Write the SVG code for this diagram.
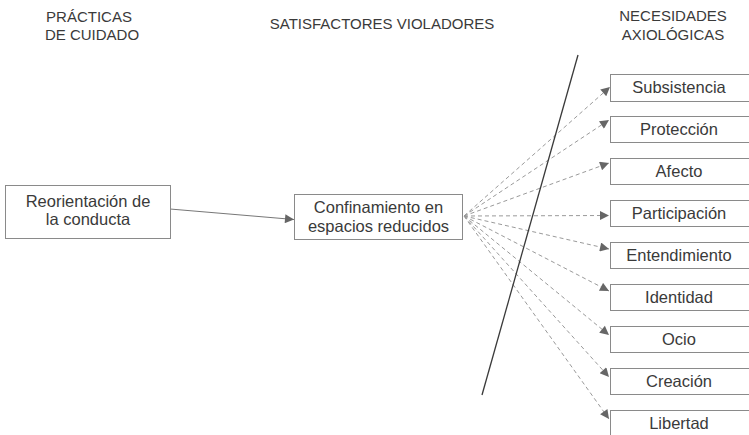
<svg xmlns="http://www.w3.org/2000/svg" width="749" height="435" viewBox="0 0 749 435">
<defs>
<marker id="ah" viewBox="0 0 10 10" refX="10" refY="5" markerWidth="11" markerHeight="9" markerUnits="userSpaceOnUse" orient="auto"><path d="M0,0 L10,5 L0,10 z" fill="#666"/></marker>
<style>
text{font-family:"Liberation Sans",Arial,sans-serif;fill:#3a3a3a;text-anchor:middle}
.t{font-size:15px}
.b{font-size:16.5px}
rect{fill:#fff;stroke:#8a8a8a;stroke-width:1}
.d{stroke:#9a9a9a;stroke-width:1;stroke-dasharray:4 3;fill:none}
.s{stroke:#777;stroke-width:1;fill:none}
</style>
</defs>
<g id="titles">
<text class="t" x="89" y="22">PRÁCTICAS</text>
<text class="t" x="92" y="40">DE CUIDADO</text>
<text class="t" x="382" y="29">SATISFACTORES VIOLADORES</text>
<text class="t" x="673" y="21">NECESIDADES</text>
<text class="t" x="673" y="40">AXIOLÓGICAS</text>
</g>
<g id="connectors">
<line class="s" x1="170" y1="209" x2="294" y2="219.5" marker-end="url(#ah)"/>
<line class="d" x1="464" y1="216" x2="610" y2="87" marker-end="url(#ah)"/>
<line class="d" x1="464" y1="216" x2="609" y2="120" marker-end="url(#ah)"/>
<line class="d" x1="464" y1="216" x2="609" y2="163" marker-end="url(#ah)"/>
<line class="d" x1="464" y1="216" x2="609" y2="215.5" marker-end="url(#ah)"/>
<line class="d" x1="464" y1="216" x2="609" y2="249" marker-end="url(#ah)"/>
<line class="d" x1="464" y1="216" x2="609" y2="291" marker-end="url(#ah)"/>
<line class="d" x1="464" y1="216" x2="609" y2="335" marker-end="url(#ah)"/>
<line class="d" x1="464" y1="216" x2="609" y2="377" marker-end="url(#ah)"/>
<line class="d" x1="464" y1="216" x2="609" y2="419" marker-end="url(#ah)"/>
<line x1="578" y1="55" x2="482" y2="395" stroke="#3a3a3a" stroke-width="1.3"/>
</g>
<g id="n-reorientacion">
<rect x="5.5" y="185.5" width="165" height="53"/>
<text class="b" x="88" y="207">Reorientación de</text>
<text class="b" x="88" y="225">la conducta</text>
</g>
<g id="n-confinamiento">
<rect x="294.5" y="194.5" width="168" height="45"/>
<text class="b" x="378.5" y="213">Confinamiento en</text>
<text class="b" x="378.5" y="232">espacios reducidos</text>
</g>
<g id="n-subsistencia"><rect x="610.5" y="74.5" width="145" height="27"/><text class="b" x="679" y="93">Subsistencia</text></g>
<g id="n-proteccion"><rect x="610.5" y="116.5" width="145" height="26"/><text class="b" x="679" y="135">Protección</text></g>
<g id="n-afecto"><rect x="610.5" y="158.5" width="145" height="26"/><text class="b" x="679" y="177">Afecto</text></g>
<g id="n-participacion"><rect x="610.5" y="200.5" width="145" height="26"/><text class="b" x="679" y="219">Participación</text></g>
<g id="n-entendimiento"><rect x="610.5" y="242.5" width="145" height="26"/><text class="b" x="679" y="261">Entendimiento</text></g>
<g id="n-identidad"><rect x="610.5" y="284.5" width="145" height="26"/><text class="b" x="679" y="303">Identidad</text></g>
<g id="n-ocio"><rect x="610.5" y="326.5" width="145" height="26"/><text class="b" x="679" y="345">Ocio</text></g>
<g id="n-creacion"><rect x="610.5" y="368.5" width="145" height="26"/><text class="b" x="679" y="387">Creación</text></g>
<g id="n-libertad"><rect x="610.5" y="410.5" width="145" height="26"/><text class="b" x="679" y="429">Libertad</text></g>
</svg>
